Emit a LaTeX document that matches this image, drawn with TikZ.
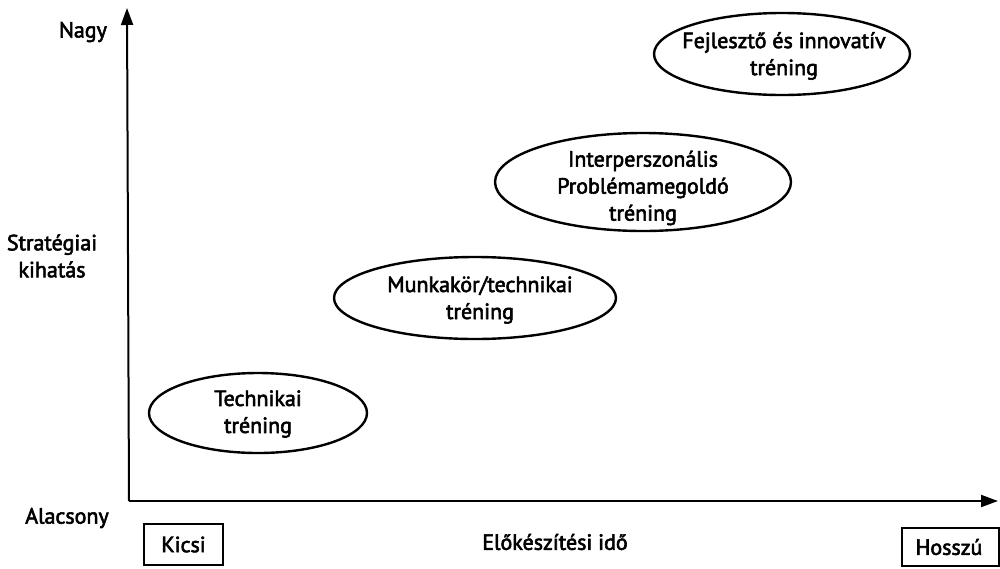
\documentclass[tikz,border=0pt]{standalone}
\usepackage{fontspec}
\setmainfont{PT Sans}
\newfontfamily\lblfont{PT Sans}[FakeBold=2.6]
\usetikzlibrary{arrows.meta,shapes.geometric}
\begin{document}
\begin{tikzpicture}[x=1pt,y=-1pt,
  lbl/.style={font=\lblfont\fontsize{22}{27}\selectfont, align=center, inner sep=0pt},
  oval/.style={line width=2.4pt},
  tagbox/.style={line width=1.8pt},
  axis/.style={line width=2pt, -{Triangle[length=17pt,width=12pt]}}]
  \useasboundingbox (0,0) rectangle (1000,568);

  % axes
  \coordinate (origin) at (129,501);
  \coordinate (ytop) at (127,8);
  \coordinate (xend) at (998,501);
  \draw[axis] (origin) -- (ytop);
  \draw[axis] (origin) -- (xend);

  % axis labels
  \node[lbl] (nagy) at (83,32) {Nagy};
  \node[lbl] (strat) at (52,256) {Stratégiai\\kihatás};
  \node[lbl] (alacsony) at (67,518) {Alacsony};
  \node[lbl] (ido) at (555,542) {Előkészítési idő};
  \draw[tagbox] (144,524) rectangle (223,565);
  \node[lbl] (kicsi) at (183.5,544.5) {Kicsi};
  \draw[tagbox] (902,528) rectangle (999,566);
  \node[lbl] (hosszu) at (949,547) {Hosszú};

  % training types
  \draw[oval] (258,413) ellipse [x radius=109, y radius=40];
  \node[lbl] (tech) at (258,414) {Technikai\\tréning};

  \draw[oval] (475,298) ellipse [x radius=141, y radius=41];
  \node[lbl] (munka) at (480,300) {Munkakör/technikai\\tréning};

  \draw[oval] (643,182) ellipse [x radius=148, y radius=49];
  \node[lbl] (inter) at (643,188) {Interperszonális\\Problémamegoldó\\tréning};

  \draw[oval] (782,54) ellipse [x radius=128, y radius=41];
  \node[lbl] (fejl) at (784,56) {Fejlesztő és innovatív\\tréning};
\end{tikzpicture}
\end{document}
